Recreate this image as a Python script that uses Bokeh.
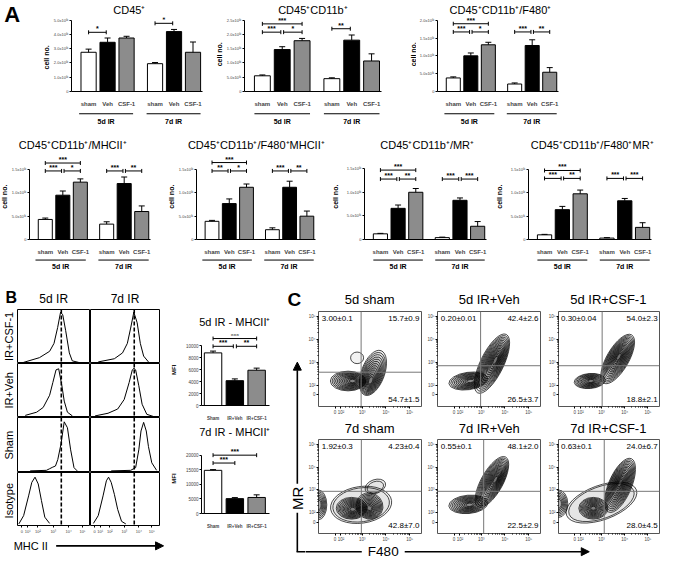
import numpy as np
from bokeh.plotting import figure
from bokeh.layouts import row, column
from bokeh.models import Range1d, FixedTicker, LinearAxis, Label, Arrow, NormalHead, Span
from bokeh.core.properties import value
from bokeh.embed import file_html
from bokeh.resources import INLINE

FONT = "Liberation Sans"

# ---------------- panel A data (cell numbers, units of 10^6) ----------------
conditions = ["sham", "Veh", "CSF-1", "sham", "Veh", "CSF-1"]
time_groups = ["5d IR", "7d IR"]

cd45_mean = [2.75, 3.45, 3.75, 1.95, 4.20, 2.75]
cd45_err = [0.22, 0.30, 0.12, 0.08, 0.15, 0.72]
cd11b_mean = [0.55, 1.47, 1.78, 0.45, 1.80, 1.07]
cd11b_err = [0.03, 0.10, 0.08, 0.03, 0.18, 0.25]
f480_mean = [0.38, 1.00, 1.31, 0.21, 1.29, 0.54]
f480_err = [0.03, 0.08, 0.07, 0.03, 0.16, 0.13]
mhc_mean = [0.43, 0.95, 1.23, 0.33, 1.20, 0.60]
mhc_err = [0.03, 0.09, 0.07, 0.05, 0.14, 0.12]
f480mhc_mean = [0.39, 0.77, 1.12, 0.21, 1.12, 0.50]
f480mhc_err = [0.02, 0.10, 0.07, 0.04, 0.13, 0.11]
mr_mean = [0.12, 0.66, 1.00, 0.04, 0.83, 0.28]
mr_err = [0.01, 0.07, 0.08, 0.01, 0.05, 0.10]
f480mr_mean = [0.10, 0.64, 0.98, 0.03, 0.83, 0.26]
f480mr_err = [0.01, 0.07, 0.08, 0.01, 0.05, 0.10]

# significance brackets: (bar i, bar j, level, stars)
cd45_sig = [(0, 1, 4.15, "*"), (3, 4, 4.78, "*")]
cd11b_sig = [(0, 2, 2.37, "***"), (0, 1, 2.08, "***"), (1, 2, 2.08, "*"), (3, 4, 2.2, "**")]
f480_sig = [(0, 2, 1.9, "***"), (0, 1, 1.67, "***"), (1, 2, 1.67, "*"), (3, 4, 1.67, "***"), (4, 5, 1.67, "**")]
mhc_sig = [(0, 2, 1.64, "***"), (0, 1, 1.47, "***"), (1, 2, 1.47, "*"), (3, 4, 1.47, "***"), (4, 5, 1.47, "**")]
f480mhc_sig = [(0, 2, 1.65, "***"), (0, 1, 1.47, "**"), (1, 2, 1.47, "*"), (3, 4, 1.47, "***"), (4, 5, 1.47, "**")]
mr_sig = [(0, 2, 1.47, "***"), (0, 1, 1.28, "***"), (1, 2, 1.28, "**"), (3, 4, 1.28, "***"), (4, 5, 1.28, "***")]
f480mr_sig = [(0, 2, 1.48, "***"), (0, 1, 1.31, "***"), (1, 2, 1.31, "**"), (3, 4, 1.31, "***"), (4, 5, 1.31, "***")]

a_titles = ["CD45⁺", "CD45⁺CD11b⁺", "CD45⁺CD11b⁺/F480⁺", "CD45⁺CD11b⁺/MHCII⁺",
            "CD45⁺CD11b⁺/F480⁺MHCII⁺", "CD45⁺CD11b⁺/MR⁺", "CD45⁺CD11b⁺/F480⁺MR⁺"]
ticks_50 = [0, 1, 2, 3, 4, 5]
labels_50 = ["0", "1.0x10⁰⁶", "2.0x10⁰⁶", "3.0x10⁰⁶", "4.0x10⁰⁶", "5.0x10⁰⁶"]
ticks_25 = [0, 0.5, 1, 1.5, 2, 2.5]
labels_25 = ["0", "5.0x10⁰⁵", "1.0x10⁰⁶", "1.5x10⁰⁶", "2.0x10⁰⁶", "2.5x10⁰⁶"]

# ---------------- panel B data ----------------
mfi_groups = ["Sham", "IR+Veh", "IR+CSF-1"]
mfi_titles = ["5d IR - MHCII⁺", "7d IR - MHCII⁺"]
mfi5_mean = [8800, 4150, 5900]
mfi5_err = [300, 300, 350]
mfi7_mean = [14800, 5100, 5500]
mfi7_err = [250, 350, 900]
mfi5_sig = [(0, 2, 11200, "***"), (0, 1, 9900, "***"), (1, 2, 9900, "**")]
mfi7_sig = [(0, 2, 20000, "***"), (0, 1, 17300, "***")]
mfi5_ticks = [0, 2000, 4000, 6000, 8000, 10000]
mfi7_ticks = [0, 5000, 10000, 15000, 20000]

hist_row_labels = ["IR+CSF-1", "IR+Veh", "Sham", "Isotype"]
hist_col_labels = ["5d IR", "7d IR"]
hist_gate = [3.0, 3.17]
hist_ticks = [0.3, 0.7, 1.4, 2.45, 3.5, 4.45]
hist_tick_labels = ["0", "10¹", "10²", "10³", "10⁴", "10⁵"]

h5_csf_x = [0.4, 1.5, 2.2, 2.5, 2.75, 2.95, 3.1, 3.3, 3.55, 3.75, 4.2]
h5_csf_y = [0.0, 0.09, 0.21, 0.36, 0.66, 0.95, 0.9, 0.6, 0.18, 0.03, 0.0]
h5_veh_x = [0.53, 1.31, 1.76, 2.2, 2.42, 2.64, 2.82, 3.04, 3.2, 3.42, 3.76]
h5_veh_y = [0.02, 0.08, 0.17, 0.4, 0.64, 0.88, 0.9, 0.58, 0.29, 0.08, 0.01]
h5_sham_x = [0.87, 1.98, 2.2, 2.42, 2.6, 2.76, 2.98, 3.2, 3.42, 3.64, 3.87, 4.09]
h5_sham_y = [0.01, 0.02, 0.05, 0.08, 0.1, 0.22, 0.51, 0.92, 0.81, 0.4, 0.07, 0.01]
h5_iso_x = [0.09, 0.42, 0.76, 0.98, 1.2, 1.42, 1.64, 1.87, 2.2]
h5_iso_y = [0.01, 0.17, 0.55, 0.81, 0.91, 0.78, 0.46, 0.14, 0.02]
h7_csf_x = [0.56, 1.73, 2.32, 2.67, 2.91, 3.14, 3.38, 3.61, 3.85, 4.2]
h7_csf_y = [0.01, 0.07, 0.18, 0.36, 0.65, 0.95, 0.75, 0.36, 0.12, 0.01]
h7_veh_x = [0.33, 1.27, 1.97, 2.44, 2.8, 3.03, 3.15, 3.27, 3.5, 3.74, 4.08, 4.55]
h7_veh_y = [0.01, 0.06, 0.14, 0.32, 0.64, 0.88, 0.91, 0.88, 0.58, 0.23, 0.04, 0.0]
h7_sham_x = [1.5, 2.91, 3.27, 3.5, 3.66, 3.85, 4.04, 4.2, 4.44, 4.79]
h7_sham_y = [0.01, 0.02, 0.07, 0.4, 0.75, 0.91, 0.75, 0.46, 0.16, 0.02]
h7_iso_x = [0.21, 0.56, 0.91, 1.15, 1.31, 1.5, 1.73, 1.97, 2.25, 2.56]
h7_iso_y = [0.02, 0.17, 0.55, 0.84, 0.91, 0.81, 0.58, 0.29, 0.06, 0.01]

# ---------------- panel C data (axis units: 3 = 10^3) ----------------
c_titles = ["5d sham", "5d IR+Veh", "5d IR+CSF-1", "7d sham", "7d IR+Veh", "7d IR+CSF-1"]
c_upper_left = ["3.00±0.1", "0.20±0.01", "0.30±0.04", "1.92±0.3", "0.55±0.1", "0.63±0.1"]
c_upper_right = ["15.7±0.9", "42.4±2.6", "54.0±2.3", "4.23±0.4", "48.1±2.0", "24.0±6.7"]
c_lower_right = ["54.7±1.5", "26.5±3.7", "18.8±2.1", "42.8±7.0", "22.5±2.9", "28.0±4.5"]
c_gate_x = [2.95, 2.97, 3.03, 2.96, 3.1, 3.12]
c_gate_y = [2.58, 2.86, 2.86, 2.94, 2.94, 2.94]
c_ticks_x = [1.85, 2.1, 3, 4, 5]
c_ticks_y = [1.6, 2, 3, 4, 5]
c_tick_labels = ["0", "10²", "10³", "10⁴", "10⁵"]
# populations: (cx, cy, width, height, angle_deg, core_x, core_y, levels, shrink)
pop_5d_sham = [(2.4, 2.2, 1.5, 0.85, 0, 2.6, 2.2, 12, 0.9),
               (3.45, 2.55, 2.0, 1.0, 70, 3.35, 2.2, 13, 0.9),
               (2.78, 3.2, 0.55, 0.5, 0, 2.78, 3.2, 1, 0.0)]
pop_5d_veh = [(2.45, 2.2, 1.65, 0.75, 8, 2.55, 2.2, 11, 0.9),
              (3.45, 2.95, 2.75, 1.0, 64, 3.6, 3.1, 15, 0.92)]
pop_5d_csf = [(2.5, 2.2, 1.35, 0.65, 5, 2.55, 2.2, 11, 0.9),
              (3.7, 3.15, 2.4, 0.95, 60, 3.75, 3.25, 15, 0.92)]
pop_7d_sham = [(1.15, 2.35, 0.7, 1.3, 0, 1.15, 2.35, 7, 0.8),
               (2.55, 2.2, 1.3, 0.95, 0, 2.6, 2.15, 11, 0.9),
               (3.3, 2.3, 1.1, 1.2, 60, 3.3, 2.2, 11, 0.9),
               (2.95, 2.35, 2.6, 1.6, 8, 2.95, 2.35, 2, 0.15),
               (3.55, 3.15, 0.9, 0.6, 20, 3.55, 3.1, 2, 0.4)]
pop_7d_veh = [(2.45, 2.37, 1.65, 0.8, 5, 2.5, 2.35, 11, 0.9),
              (3.45, 3.35, 2.4, 0.95, 61, 3.6, 3.45, 15, 0.92)]
pop_7d_csf = [(1.15, 2.4, 0.8, 1.2, 0, 1.15, 2.4, 7, 0.8),
              (2.65, 2.2, 1.25, 0.95, 0, 2.65, 2.2, 11, 0.9),
              (3.8, 3.2, 2.5, 1.0, 67, 3.8, 3.3, 15, 0.92),
              (3.0, 2.45, 3.2, 1.5, 20, 3.0, 2.45, 2, 0.15)]

# ---------------- helpers ----------------
SX = 662 / 678
SY = 558 / 574


def px(v):
    return int(round(v * SX))


def py(v):
    return int(round(v * SY))


class Panel:
    def __init__(self, box, frame, xr, yr, outline=None):
        x0, y0, x1, y1 = box
        fl, ft, fr, fb = frame
        X0, Y0, X1, Y1 = px(x0), py(y0), px(x1), py(y1)
        self.FL, self.FT, self.FR, self.FB = px(fl), py(ft), px(fr), py(fb)
        self.xr, self.yr = xr, yr
        p = figure(width=X1 - X0, height=Y1 - Y0,
                   x_range=Range1d(*xr), y_range=Range1d(*yr),
                   min_border_left=self.FL - X0, min_border_right=X1 - self.FR,
                   min_border_top=self.FT - Y0, min_border_bottom=Y1 - self.FB,
                   x_axis_location=None, y_axis_location=None,
                   output_backend="svg", toolbar_location=None)
        p.grid.visible = False
        p.outline_line_color = outline
        p.outline_line_width = 1
        p.background_fill_color = "white"
        p.border_fill_color = "white"
        self.p = p

    def dx(self, x):
        return self.xr[0] + (x * SX - self.FL) / (self.FR - self.FL) * (self.xr[1] - self.xr[0])

    def dy(self, y):
        return self.yr[0] + (self.FB - y * SY) / (self.FB - self.FT) * (self.yr[1] - self.yr[0])

    def ref_x(self, xd):
        return (self.FL + (xd - self.xr[0]) / (self.xr[1] - self.xr[0]) * (self.FR - self.FL)) / SX


def Strip(x0, y0, x1, y1):
    return Panel((x0, y0, x1, y1), (x0, y0, x1, y1), (x0, x1), (y1, y0))


def text(P, x, y, s, size, align="center", baseline="middle", angle=0.0, bold=False):
    P.p.add_layout(Label(x=x, y=y, text=s, text_font=FONT, text_font_size=f"{size}px",
                         text_font_style="bold" if bold else "normal", text_align=align,
                         text_baseline=baseline, angle=angle, text_color="black"))


def rtext(P, x, y, s, size, **kw):
    text(P, P.dx(x), P.dy(y), s, size, **kw)


def rline(P, xa, ya, xb, yb, width=1.0, head=False):
    end = NormalHead(size=8, fill_color="black", line_color="black", line_width=1) if head else None
    P.p.add_layout(Arrow(x_start=P.dx(xa), y_start=P.dy(ya), x_end=P.dx(xb), y_end=P.dy(yb),
                         start=None, end=end, line_color="black", line_width=width))


def overrides(ticks, labels):
    d = {}
    for t, l in zip(ticks, labels):
        d[float(t)] = l
        d[f"{t:g}"] = l
    return d


def bracket(P, xa, xb, lev, stars, size=7):
    p = P.p
    p.segment(x0=[xa], y0=[lev], x1=[xb], y1=[lev], line_color="black", line_width=1)
    p.scatter(x=[xa, xb], y=[lev, lev], marker="dash", angle=np.pi / 2, size=4,
              line_color="black", line_width=1)
    p.text(x=[(xa + xb) / 2], y=[lev], text=[stars], text_align="center", text_baseline="bottom",
           text_font=value(FONT), text_font_size=value(f"{size}px"), text_font_style="bold")


def bar_panel(box, frame, tick_y, tick_v, xpos, xr, xlabels, colors, means, errs,
              yticks, ylabs, sig, label_size, shared, standoff=3, ytick_size=4):
    fl, ft, fr, base = frame
    yend = tick_v * (base - ft) / (base - tick_y)
    P = Panel(box, frame, xr, (0, yend))
    p = P.p
    yax = LinearAxis(ticker=FixedTicker(ticks=yticks), bounds=(0, tick_v),
                     major_label_overrides=overrides(yticks, ylabs),
                     major_label_text_font_size=f"{ytick_size}px", major_label_text_font=FONT,
                     major_tick_out=2, major_tick_in=0, minor_tick_line_color=None,
                     major_label_standoff=1, axis_line_width=1)
    p.add_layout(yax, "left")
    xax = LinearAxis(ticker=FixedTicker(ticks=xpos), major_label_overrides=overrides(xpos, xlabels),
                     major_label_text_font_size=f"{label_size}px", major_label_text_font=FONT,
                     major_label_text_font_style="bold", major_tick_line_color=None,
                     minor_tick_line_color=None, major_label_standoff=standoff, axis_line_width=1)
    p.add_layout(xax, "below")
    p.vbar(x=xpos, top=means, width=0.8, fill_color=colors, line_color="black", line_width=1)
    tops = [m + e for m, e in zip(means, errs)]
    p.segment(x0=xpos, y0=means, x1=xpos, y1=tops, line_color="black", line_width=1)
    p.scatter(x=xpos, y=tops, marker="dash", size=6, line_color="black", line_width=1)
    for i, j, lev, stars in sig:
        xa = xpos[i] + (0.07 if i in shared else 0)
        xb = xpos[j] - (0.07 if j in shared else 0)
        bracket(P, xa, xb, lev, stars)
    return P


XPOS = [1, 2, 3, 4.5, 5.5, 6.5]
XR = (0.1, 7.0)
BAR_COLORS = ["white", "black", "#8c8c8c"] * 2


def cell_panel(box, frame, tick_y, tick_v, means, errs, yticks, ylabs, sig):
    return bar_panel(box, frame, tick_y, tick_v, XPOS, XR, conditions, BAR_COLORS,
                     means, errs, yticks, ylabs, sig, 6, (1, 4), standoff=3)


def group_marks(G, P, line_y, text_y):
    for g, (a, b) in enumerate([(0, 2), (3, 5)]):
        xa, xb = P.ref_x(XPOS[a] - 0.4), P.ref_x(XPOS[b] + 0.4)
        rline(G, xa, line_y, xb, line_y, width=1)
        rtext(G, (xa + xb) / 2, text_y, time_groups[g], 7, bold=True)


def ylabel_strip(x0, y0, x1, y1, s, size=7):
    S = Strip(x0, y0, x1, y1)
    rtext(S, (x0 + x1) / 2, (y0 + y1) / 2, s, size, angle=np.pi / 2, bold=True)
    return S.p


# ---------------- panel A, row 1 ----------------
L1 = Strip(0, 0, 51, 140)
rtext(L1, 12, 14, "A", 22, bold=True)
rtext(L1, 47, 58.5, "cell no.", 7, angle=np.pi / 2, bold=True)
T1 = Strip(51, 0, 678, 17)
A1 = cell_panel((51, 17, 221, 112), (71, 17, 207, 100), 20, 5.0, cd45_mean, cd45_err,
                ticks_50, labels_50, cd45_sig)
A2 = cell_panel((228, 17, 419, 112), (250, 17, 390, 100), 20, 2.5, cd11b_mean, cd11b_err,
                ticks_25, labels_25, cd11b_sig)
A3 = cell_panel((426, 17, 678, 112), (446, 17, 571, 100), 20, 2.0, f480_mean, f480_err,
                ticks_25[:5], labels_25[:5], f480_sig)
rtext(T1, 132, 10, a_titles[0], 11)
rtext(T1, 320, 10, a_titles[1], 11)
rtext(T1, 512, 10, a_titles[2], 11)
G1 = Strip(51, 112, 678, 140)
for P in (A1, A2, A3):
    group_marks(G1, P, 116.5, 124)
row1 = row([L1.p, column([T1.p,
                          row([A1.p, ylabel_strip(221, 17, 228, 112, "cell no."), A2.p,
                               ylabel_strip(419, 17, 426, 112, "cell no."), A3.p], spacing=0),
                          G1.p], spacing=0)], spacing=0)

# ---------------- panel A, row 2 ----------------
T2 = Strip(0, 140, 678, 157)
rtext(T2, 74, 149, a_titles[3], 11)
rtext(T2, 262, 149, a_titles[4], 11)
rtext(T2, 437, 149, a_titles[5], 11)
rtext(T2, 606, 149, a_titles[6], 11)
A4 = cell_panel((8, 157, 172, 264), (27, 158, 154, 254), 175, 1.5, mhc_mean, mhc_err,
                ticks_25[:4], labels_25[:4], mhc_sig)
A5 = cell_panel((179, 157, 340, 264), (198, 158, 323, 254), 175, 1.5, f480mhc_mean, f480mhc_err,
                ticks_25[:4], labels_25[:4], f480mhc_sig)
A6 = cell_panel((347, 157, 508, 264), (373, 158, 498, 254), 174, 1.5, mr_mean, mr_err,
                ticks_25[:4], labels_25[:4], mr_sig)
A7 = cell_panel((515, 157, 678, 264), (541, 158, 667, 254), 175, 1.5, f480mr_mean, f480mr_err,
                ticks_25[:4], labels_25[:4], f480mr_sig)
G2 = Strip(0, 264, 678, 295)
for P in (A4, A5, A6, A7):
    group_marks(G2, P, 267, 274)
row2 = column([T2.p,
               row([ylabel_strip(0, 157, 8, 264, "cell no."), A4.p,
                    ylabel_strip(172, 157, 179, 264, "cell no."), A5.p,
                    ylabel_strip(340, 157, 347, 264, "cell no."), A6.p,
                    ylabel_strip(508, 157, 515, 264, "cell no."), A7.p], spacing=0),
               G2.p], spacing=0)

# ---------------- panel B: histograms ----------------
hist_curves = [[(h5_csf_x, h5_csf_y), (h5_veh_x, h5_veh_y), (h5_sham_x, h5_sham_y), (h5_iso_x, h5_iso_y)],
               [(h7_csf_x, h7_csf_y), (h7_veh_x, h7_veh_y), (h7_sham_x, h7_sham_y), (h7_iso_x, h7_iso_y)]]
hist_cols = [(17, 92, 17, 92), (92, 170, 92, 163)]
hist_rows = [(318, 373, 318, 373), (373, 429, 373, 429), (429, 486, 429, 486), (486, 551, 486, 543)]
HB = Strip(0, 295, 170, 318)
rtext(HB, 11, 306, "B", 16, bold=True)
rtext(HB, 54.5, 307, hist_col_labels[0], 12)
rtext(HB, 127.5, 307, hist_col_labels[1], 12)
RL = Strip(0, 318, 17, 551)
for r, (by0, by1, ft, fb) in enumerate(hist_rows):
    rtext(RL, 8.5, (ft + fb) / 2, hist_row_labels[r], 11, angle=np.pi / 2)
hist_columns = []
for c, (bx0, bx1, fl, fr) in enumerate(hist_cols):
    cells = []
    for r, (by0, by1, ft, fb) in enumerate(hist_rows):
        P = Panel((bx0, by0, bx1, by1), (fl, ft, fr, fb), (0, 5), (-0.02, 1.0), outline="black")
        cx, cy = hist_curves[c][r]
        P.p.line(cx, cy, line_color="black", line_width=1)
        P.p.add_layout(Span(location=hist_gate[c], dimension="height", line_color="black",
                            line_width=1.6, line_dash="4 2"))
        if r == 3:
            ax = LinearAxis(ticker=FixedTicker(ticks=hist_ticks),
                            major_label_overrides=overrides(hist_ticks, hist_tick_labels),
                            major_label_text_font_size="4px", major_label_text_font=FONT,
                            major_tick_out=2, major_tick_in=0, minor_tick_line_color=None,
                            major_label_standoff=1, axis_line_color=None)
            P.p.add_layout(ax, "below")
        cells.append(P.p)
    hist_columns.append(column(cells, spacing=0))
MB = Strip(0, 551, 170, 574)
rtext(MB, 31, 561, "MHC II", 11)
rline(MB, 57, 561, 167, 561, width=1.6, head=True)
hist_block = column([HB.p, row([RL.p] + hist_columns, spacing=0), MB.p], spacing=0)

# ---------------- panel B: MFI bars ----------------
MT5 = Strip(170, 295, 290, 340)
rtext(MT5, 240, 331, mfi_titles[0], 11)
M5 = bar_panel((186, 340, 290, 435), (202, 344, 276, 420), 356, 10000, [1, 2, 3], (0.47, 3.59),
               mfi_groups, ["white", "black", "#8c8c8c"], mfi5_mean, mfi5_err, mfi5_ticks,
               [str(t) for t in mfi5_ticks], mfi5_sig, 4.5, (1,), standoff=4, ytick_size=4.5)
MT7 = Strip(170, 435, 290, 452)
rtext(MT7, 240, 444, mfi_titles[1], 11)
M7 = bar_panel((186, 452, 290, 574), (202, 456, 276, 528), 468, 20000, [1, 2, 3], (0.47, 3.59),
               mfi_groups, ["white", "black", "#8c8c8c"], mfi7_mean, mfi7_err, mfi7_ticks,
               [str(t) for t in mfi7_ticks], mfi7_sig, 4.5, (), standoff=4, ytick_size=4.5)
mfi_block = column([MT5.p,
                    row([ylabel_strip(170, 340, 186, 435, "MFI", 6), M5.p], spacing=0),
                    MT7.p,
                    row([ylabel_strip(170, 452, 186, 574, "MFI", 6), M7.p], spacing=0)], spacing=0)

# ---------------- panel C: contour plots ----------------
c_pops = [pop_5d_sham, pop_5d_veh, pop_5d_csf, pop_7d_sham, pop_7d_veh, pop_7d_csf]
c_cols = [(312, 434, 325, 431), (434, 558, 448, 553), (558, 678, 570, 675)]
c_rows = [(318, 430, 320, 418), (450, 560, 452, 548)]
c_minor = [float(np.log10(k * 10.0 ** d)) for d in (2, 3, 4) for k in range(2, 10)]
CL = Strip(290, 295, 312, 574)
rtext(CL, 301, 308, "C", 19, bold=True)
rline(CL, 304, 567, 304, 527, width=1.6)
rtext(CL, 304, 512, "MR", 15, angle=np.pi / 2)
rline(CL, 304, 497, 304, 372, width=1.6, head=True)
rline(CL, 303.2, 567, 312, 567, width=1.6)
CT = [Strip(312, 295, 678, 318), Strip(312, 430, 678, 450)]
c_title_y = [308, 440]
CF = Strip(312, 560, 678, 574)
rline(CF, 312, 567, 370, 567, width=1.6)
rtext(CF, 392, 567, "F480", 13.5)
rline(CF, 414, 567, 603, 567, width=1.6, head=True)

c_parts = []
for r, (by0, by1, ft, fb) in enumerate(c_rows):
    figs = []
    for c, (bx0, bx1, fl, fr) in enumerate(c_cols):
        k = r * 3 + c
        P = Panel((bx0, by0, bx1, by1), (fl, ft, fr, fb), (1.15, 5.5), (1.1, 5.2), outline="#555555")
        p = P.p
        for (side, ticks) in (("below", c_ticks_x), ("left", c_ticks_y)):
            ax = LinearAxis(ticker=FixedTicker(ticks=ticks, minor_ticks=c_minor),
                            major_label_overrides=overrides(ticks, c_tick_labels),
                            major_label_text_font_size="4.5px", major_label_text_font=FONT,
                            major_tick_out=2, major_tick_in=0, minor_tick_out=1, minor_tick_in=0,
                            major_label_standoff=1, axis_line_color=None)
            p.add_layout(ax, side)
        for (cx, cy, w, h, ang, kx, ky, n, shrink) in c_pops[k]:
            t = np.arange(n) / n
            s = 1 - shrink * t
            p.ellipse(x=cx + (kx - cx) * t, y=cy + (ky - cy) * t, width=w * s, height=h * s,
                      angle=np.deg2rad(ang), fill_color="black", fill_alpha=0.05,
                      line_color="black", line_width=0.7)
        p.add_layout(Span(location=c_gate_x[k], dimension="height", line_color="#777777", line_width=1))
        p.add_layout(Span(location=c_gate_y[k], dimension="width", line_color="#777777", line_width=1))
        rtext(P, fl + 3, ft + 7, c_upper_left[k], 8, align="left")
        rtext(P, fr - 2, ft + 7, c_upper_right[k], 8, align="right")
        rtext(P, fr - 2, fb - 8, c_lower_right[k], 8, align="right")
        rtext(CT[r], (fl + fr) / 2, c_title_y[r], c_titles[k], 13)
        figs.append(p)
    c_parts.append(CT[r].p)
    c_parts.append(row(figs, spacing=0))
c_parts.append(CF.p)
c_block = row([CL.p, column(c_parts, spacing=0)], spacing=0)

row3 = row([hist_block, mfi_block, c_block], spacing=0)
root = column([row1, row2, row3], spacing=0)

open("out.html", "w").write(file_html(root, INLINE, title="figure"))
